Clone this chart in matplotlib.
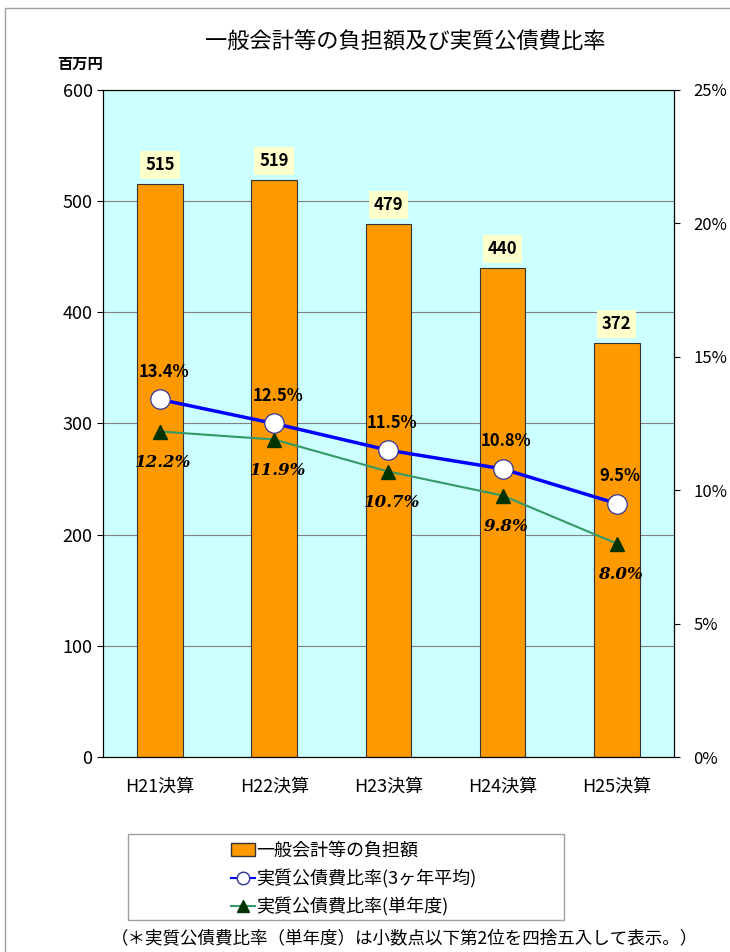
import matplotlib

matplotlib.use("Agg")
import matplotlib.pyplot as plt
from matplotlib.lines import Line2D
import matplotlib.patches as mpatches

plt.rcParams["font.family"] = ["Noto Sans CJK JP", "DejaVu Sans"]

categories = ["H21決算", "H22決算", "H23決算", "H24決算", "H25決算"]
burden = [515, 519, 479, 440, 372]
ratio_3yr = [13.4, 12.5, 11.5, 10.8, 9.5]
ratio_single = [12.2, 11.9, 10.7, 9.8, 8.0]
left_ticks = [0, 100, 200, 300, 400, 500, 600]
right_ticks = [0, 5, 10, 15, 20, 25]

W, H = 730, 952
fig = plt.figure(figsize=(W / 100, H / 100), dpi=100)
fig.patches.append(mpatches.Rectangle((0.007, -0.01), 1.0, 1.002, transform=fig.transFigure,
                                      fill=False, edgecolor="#a0a0a0", lw=1.0))

ax = fig.add_axes([0.141, 0.2048, 0.782, 0.7007])
ax.set_facecolor("#CCFFFF")
x = list(range(len(categories)))

ax.bar(x, burden, width=0.40, color="#FF9900", edgecolor="#333333", linewidth=0.8, zorder=2)
ax.set_ylim(0, 600)
ax.set_xlim(-0.5, len(categories) - 0.5)
ax.set_yticks(left_ticks)
ax.set_yticklabels([str(t) for t in left_ticks], fontsize=13)
ax.yaxis.grid(True, color="#808080", lw=0.8, zorder=0)
ax.set_axisbelow(True)
ax.set_xticks(x)
ax.set_xticklabels(categories, fontsize=13)
ax.tick_params(axis="x", length=0, pad=15)
ax.tick_params(axis="y", length=4, direction="out")
for s in ax.spines.values():
    s.set_color("black")
    s.set_linewidth(0.8)

for xi, v in zip(x, burden):
    ax.text(xi, v + 9, str(v), ha="center", va="bottom", fontsize=12, fontweight="bold",
            bbox=dict(boxstyle="square,pad=0.3", facecolor="#FFFFCC", edgecolor="none"), zorder=5)

ax2 = ax.twinx()
ax2.set_ylim(0, 25)
ax2.set_yticks(right_ticks)
ax2.set_yticklabels([f"{t}%" for t in right_ticks], fontsize=12)
ax2.tick_params(axis="y", length=4, direction="out", pad=10)

ax2.plot(x, ratio_single, color="#339966", lw=1.5, marker="^", ms=10,
         markerfacecolor="#003300", markeredgecolor="#003300", zorder=3)
ax2.plot(x, ratio_3yr, color="#0000FF", lw=2.5, marker="o", ms=14,
         markerfacecolor="white", markeredgecolor="#333399", markeredgewidth=0.9, zorder=4)

for xi, v in zip(x, ratio_3yr):
    ax2.text(xi + 0.03, v + 0.7, f"{v:.1f}%", ha="center", va="bottom", fontsize=12,
             fontweight="bold", zorder=6)
for xi, v in zip(x, ratio_single):
    ax2.text(xi + 0.03, v - 0.85, f"{v:.1f}%", ha="center", va="top", fontsize=12,
             fontweight="bold", style="italic", family=["DejaVu Serif"], zorder=6)

fig.text(0.555, 0.956, "一般会計等の負担額及び実質公債費比率", ha="center", va="center", fontsize=16)
fig.text(0.110, 0.933, "百万円", ha="center", va="center", fontsize=11, fontweight="bold")

# legend frame drawn separately so it can be wider than the entries
fig.patches.append(mpatches.Rectangle((128 / W, 1 - 920 / H), 436 / W, 86 / H,
                                      transform=fig.transFigure, fill=False,
                                      edgecolor="#a0a0a0", lw=1.0))
handles = [
    mpatches.Patch(facecolor="#FF9900", edgecolor="#333333", label="一般会計等の負担額"),
    Line2D([0], [0], color="#0000FF", lw=1.5, marker="o", ms=9, markerfacecolor="white",
           markeredgecolor="#333399", label="実質公債費比率(3ヶ年平均)"),
    Line2D([0], [0], color="#339966", lw=1.5, marker="^", ms=9, markerfacecolor="#003300",
           markeredgecolor="#003300", label="実質公債費比率(単年度)"),
]
leg = fig.legend(handles=handles, loc="center left", bbox_to_anchor=(222 / W, 1 - 879 / H),
                 fontsize=13, frameon=False, handlelength=1.3,
                 handletextpad=0.1, labelspacing=0.5, borderpad=0.0)

fig.text(0.152, 0.0145, "（＊実質公債費比率（単年度）は小数点以下第2位を四捨五入して表示。）",
         ha="left", va="center", fontsize=12.6)

fig.savefig("out.png", dpi=100)
